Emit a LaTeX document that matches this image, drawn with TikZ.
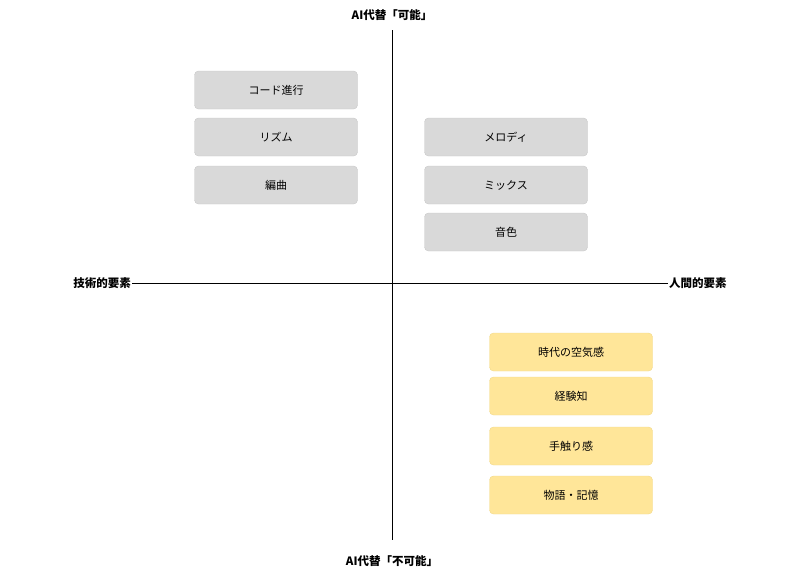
\documentclass[tikz,border=0pt]{standalone}
\usepackage{fontspec}
\setmainfont{Noto Sans CJK JP}
\definecolor{gbox}{HTML}{D9D9D9}
\definecolor{gline}{HTML}{C8C8C8}
\definecolor{ybox}{HTML}{FFE699}
\definecolor{yline}{HTML}{F2D98A}
\begin{document}
\begin{tikzpicture}[x=1pt,y=-1pt,
  gb/.style={draw=gline,fill=gbox,rounded corners=4pt,minimum width=163pt,minimum height=38pt,font=\fontsize{11}{13}\selectfont,inner sep=0pt},
  yb/.style={draw=yline,fill=ybox,rounded corners=4pt,minimum width=163pt,minimum height=38pt,font=\fontsize{11}{13}\selectfont,inner sep=0pt},
  ax/.style={font=\bfseries\fontsize{11.5}{13}\selectfont,inner sep=1pt}]
\useasboundingbox (0,0) rectangle (802,582);
\node[ax] (top) at (392,15) {AI代替「可能」};
\node[ax] (bot) at (392,561) {AI代替「不可能」};
\node[ax,anchor=east] (lft) at (132,283) {技術的要素};
\node[ax,anchor=west] (rgt) at (668,283) {人間的要素};
\coordinate (vt) at (392,30);
\coordinate (vb) at (392,540);
\draw[line width=1pt] (vt) -- (vb);
\draw[line width=1pt] (lft.east) -- (rgt.west);
\node[gb] (a1) at (276,90) {コード進行};
\node[gb] (a2) at (276,137) {リズム};
\node[gb] (a3) at (276,185) {編曲};
\node[gb] (b1) at (506,137) {メロディ};
\node[gb] (b2) at (506,185) {ミックス};
\node[gb] (b3) at (506,232) {音色};
\node[yb] (c1) at (571,352) {時代の空気感};
\node[yb] (c2) at (571,396) {経験知};
\node[yb] (c3) at (571,446) {手触り感};
\node[yb] (c4) at (571,495) {物語・記憶};
\end{tikzpicture}
\end{document}
